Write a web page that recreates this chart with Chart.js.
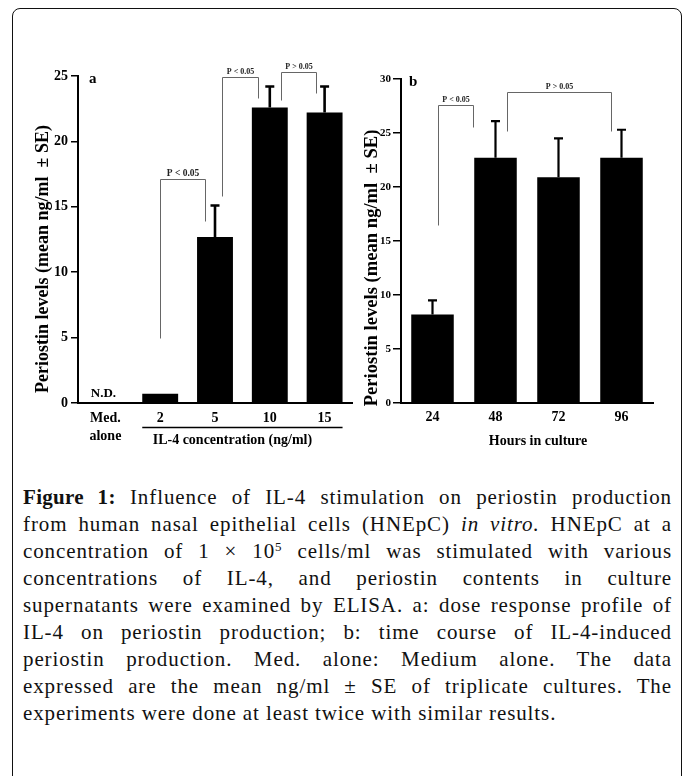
<!DOCTYPE html>
<html>
<head>
<meta charset="utf-8">
<script src="https://cdn.jsdelivr.net/npm/chart.js@4.4.1/dist/chart.umd.min.js"></script>
<style>
  body { margin: 0; background: #fff; width: 683px; height: 776px; overflow: hidden; position: relative; font-family: 'Liberation Serif', serif; }
  .frame { position: absolute; left: 12px; top: 8px; width: 670px; height: 820px; border: 1.5px solid #111; border-radius: 8px; box-sizing: border-box; }
  #chart-dose { position: absolute; left: 0; top: 0; }
  #chart-hours { position: absolute; left: 355px; top: 0; }
  .caption { position: absolute; left: 23px; top: 484px; width: 649px; font-size: 21px; letter-spacing: 0.9px; line-height: 27px; color: #111; }
  .caption div { text-align: justify; text-align-last: justify; white-space: nowrap; }
  .caption div.last { text-align-last: left; }
  .caption b { font-weight: bold; letter-spacing: 0.3px; }
  .caption sup { font-size: 0.62em; line-height: 0; vertical-align: 0.55em; }
</style>
</head>
<body>
<div class="frame"></div>
<canvas id="chart-dose" width="355" height="470"></canvas>
<canvas id="chart-hours" width="328" height="470"></canvas>
<div class="caption">
  <div><b>Figure 1:</b> Influence of IL-4 stimulation on periostin production</div>
  <div>from human nasal epithelial cells (HNEpC) <i>in vitro.</i> HNEpC at a</div>
  <div>concentration of 1 × 10<sup>5</sup> cells/ml was stimulated with various</div>
  <div>concentrations of IL-4, and periostin contents in culture</div>
  <div>supernatants were examined by ELISA. a: dose response profile of</div>
  <div>IL-4 on periostin production; b: time course of IL-4-induced</div>
  <div>periostin production. Med. alone: Medium alone. The data</div>
  <div>expressed are the mean ng/ml ± SE of triplicate cultures. The</div>
  <div class="last">experiments were done at least twice with similar results.</div>
</div>
<script>
// panel a — dosis de IL-4
const doseLabels = [['Med.', 'alone'], '2', '5', '10', '15'];
const doseMeans = [0, 0.7, 12.7, 22.6, 22.2];
const doseSE = [null, null, 2.4, 1.6, 2.0];
const doseTicks = [0, 5, 10, 15, 20, 25];
// brackets in data units: x as category index, y as ng/ml
const doseBrackets = [
  { from: 1.0, to: 1.82, top: 17.1, dropL: 5.0, dropR: 13.9, text: 'P < 0.05' },
  { from: 2.13, to: 2.78, top: 24.9, dropL: 15.8, dropR: 23.3, text: 'P < 0.05' },
  { from: 3.21, to: 3.85, top: 25.3, dropL: 23.2, dropR: 23.7, text: 'P > 0.05' }
];

// panel b — time course
const hourLabels = ['24', '48', '72', '96'];
const hourMeans = [8.2, 22.7, 20.9, 22.7];
const hourSE = [1.3, 3.4, 3.6, 2.6];
const hourTicks = [0, 5, 10, 15, 20, 25, 30];
const hourBrackets = [
  { from: 0.09, to: 0.65, top: 27.6, dropL: 16.5, dropR: 25.6, text: 'P < 0.05' },
  { from: 1.18, to: 2.84, top: 28.8, dropL: 25.2, dropR: 25.2, text: 'P > 0.05' }
];

const FONT = '"Liberation Serif", "Times New Roman", serif';
Chart.defaults.font.family = FONT;
Chart.defaults.color = '#000';

/**
 * Error bars, significance brackets and the extra text of each panel
 */
const annotations = {
  id: 'annotations',
  afterDatasetsDraw(chart, args, o) {
    const { ctx, scales: { x, y } } = chart;
    const meta = chart.getDatasetMeta(0);
    const values = chart.data.datasets[0].data;
    ctx.save();
    ctx.strokeStyle = '#000';
    ctx.lineWidth = o.errWidth;
    o.se.forEach((se, i) => {
      if (se == null) return;
      const bar = meta.data[i];
      const top = y.getPixelForValue(values[i] + se);
      ctx.beginPath();
      ctx.moveTo(bar.x, bar.y);
      ctx.lineTo(bar.x, top);
      ctx.moveTo(bar.x - o.cap / 2, top);
      ctx.lineTo(bar.x + o.cap / 2, top);
      ctx.stroke();
    });

    const step = x.getPixelForValue(1) - x.getPixelForValue(0);
    const px = v => Math.round(x.getPixelForValue(0) + v * step) + 0.5;
    const py = v => Math.round(y.getPixelForValue(v)) + 0.5;
    ctx.strokeStyle = '#666';
    ctx.lineWidth = 1;
    ctx.fillStyle = '#222';
    ctx.textAlign = 'center';
    ctx.textBaseline = 'alphabetic';
    o.brackets.forEach((b, i) => {
      const x1 = px(b.from), x2 = px(b.to), yt = py(b.top);
      ctx.beginPath();
      ctx.moveTo(x1, py(b.dropL));
      ctx.lineTo(x1, yt);
      ctx.lineTo(x2, yt);
      ctx.lineTo(x2, py(b.dropR));
      ctx.stroke();
      ctx.font = o.bracketFonts[i];
      ctx.fillText(b.text, (x1 + x2) / 2, yt - 4);
    });
    ctx.restore();
  },
  afterDraw(chart, args, o) {
    const { ctx, chartArea } = chart;
    const meta = chart.getDatasetMeta(0);
    ctx.save();
    ctx.fillStyle = '#000';

    // panel letter
    ctx.font = 'bold 15px ' + FONT;
    ctx.textAlign = 'left';
    ctx.textBaseline = 'middle';
    ctx.fillText(o.letter, chartArea.left + o.letterDx, chartArea.top + 3);

    // N.D. label
    if (o.nd) {
      ctx.font = 'bold 13px ' + FONT;
      ctx.textAlign = 'center';
      ctx.textBaseline = 'alphabetic';
      ctx.fillText(o.nd, meta.data[0].x - 2, chartArea.bottom - 6);
    }

    // x title (with optional underline over the IL-4 groups)
    ctx.font = 'bold 14px ' + FONT;
    ctx.textAlign = 'center';
    ctx.textBaseline = 'alphabetic';
    let cx = (chartArea.left + chartArea.right) / 2;
    if (o.underline) {
      const first = meta.data[o.underline[0]], last = meta.data[o.underline[1]];
      const x1 = first.x - first.width / 2, x2 = last.x + last.width / 2;
      ctx.strokeStyle = '#000';
      ctx.lineWidth = 1.5;
      ctx.beginPath();
      ctx.moveTo(x1, chartArea.bottom + 24.5);
      ctx.lineTo(x2, chartArea.bottom + 24.5);
      ctx.stroke();
      cx = (x1 + x2) / 2;
    }
    ctx.fillText(o.xTitle, cx + o.xTitleDx, chartArea.bottom + o.xTitleDy);

    // y title
    ctx.translate(chartArea.left - o.yTitleDx, (chartArea.top + chartArea.bottom) / 2 + o.yTitleDy);
    ctx.rotate(-Math.PI / 2);
    ctx.font = 'bold ' + o.yTitleSize + 'px ' + FONT;
    ctx.textAlign = 'center';
    ctx.textBaseline = 'middle';
    ctx.fillText(o.yTitle, 0, 0);
    ctx.restore();
  }
};

function buildChart(id, cfg) {
  const ctx = document.getElementById(id);
  return new Chart(ctx, {
    type: 'bar',
    data: {
      labels: cfg.labels,
      datasets: [{
        data: cfg.values,
        backgroundColor: '#000',
        borderWidth: 0,
        categoryPercentage: 1,
        barPercentage: cfg.barPct
      }]
    },
    options: {
      responsive: false,
      animation: false,
      devicePixelRatio: 1,
      layout: { padding: { top: cfg.padTop, right: cfg.padRight, bottom: 0, left: 0 } },
      plugins: {
        legend: { display: false },
        tooltip: { enabled: false },
        annotations: cfg.annot
      },
      scales: {
        x: {
          grid: { display: false, drawTicks: false },
          border: { display: true, color: '#000', width: 2 },
          ticks: {
            font: { size: 14, weight: 'bold', lineHeight: 1.25 },
            color: '#000',
            padding: cfg.xPad,
            maxRotation: 0,
            autoSkip: false
          },
          afterFit: s => { s.height = 67; }
        },
        y: {
          min: cfg.ticks[0],
          max: cfg.ticks[cfg.ticks.length - 1],
          afterBuildTicks: s => { s.ticks = cfg.ticks.map(v => ({ value: v })); },
          grid: { display: true, drawOnChartArea: false, drawTicks: true, tickLength: cfg.tickLen, color: '#000', lineWidth: 1.5 },
          border: { display: true, color: '#000', width: 2 },
          ticks: { font: { size: cfg.yFont, weight: 'bold' }, color: '#000', padding: cfg.yPad },
          afterFit: s => { s.width = cfg.yWidth; }
        }
      }
    },
    plugins: [annotations]
  });
}

buildChart('chart-dose', {
  labels: doseLabels,
  values: doseMeans,
  ticks: doseTicks,
  barPct: 0.655,
  padTop: 76,
  padRight: 3,
  yWidth: 78,
  yFont: 14,
  yPad: 3,
  tickLen: 7,
  xPad: 7,
  annot: {
    se: doseSE,
    errWidth: 2.6,
    cap: 9,
    brackets: doseBrackets,
    bracketFonts: ['bold 9.5px ' + FONT, 'bold 8px ' + FONT, 'bold 8px ' + FONT],
    letter: 'a',
    letterDx: 11,
    nd: 'N.D.',
    underline: [1, 4],
    xTitle: 'IL-4 concentration (ng/ml)',
    xTitleDx: -10,
    xTitleDy: 41,
    yTitle: 'Periostin levels (mean ng/ml  \u00b1 SE)',
    yTitleSize: 18,
    yTitleDx: 35,
    yTitleDy: 19.5
  }
});

buildChart('chart-hours', {
  labels: hourLabels,
  values: hourMeans,
  ticks: hourTicks,
  barPct: 0.675,
  padTop: 79,
  padRight: 30,
  yWidth: 46,
  yFont: 11,
  yPad: 2,
  tickLen: 8,
  xPad: 6,
  annot: {
    se: hourSE,
    errWidth: 2.2,
    cap: 9,
    brackets: hourBrackets,
    bracketFonts: ['bold 8px ' + FONT, 'bold 8px ' + FONT],
    letter: 'b',
    letterDx: 8,
    nd: null,
    underline: null,
    xTitle: 'Hours in culture',
    xTitleDx: 11,
    xTitleDy: 42,
    yTitle: 'Periostin levels (mean ng/ml  \u00b1 SE)',
    yTitleSize: 18.6,
    yTitleDx: 28.5,
    yTitleDy: 27
  }
});
</script>
</body>
</html>
